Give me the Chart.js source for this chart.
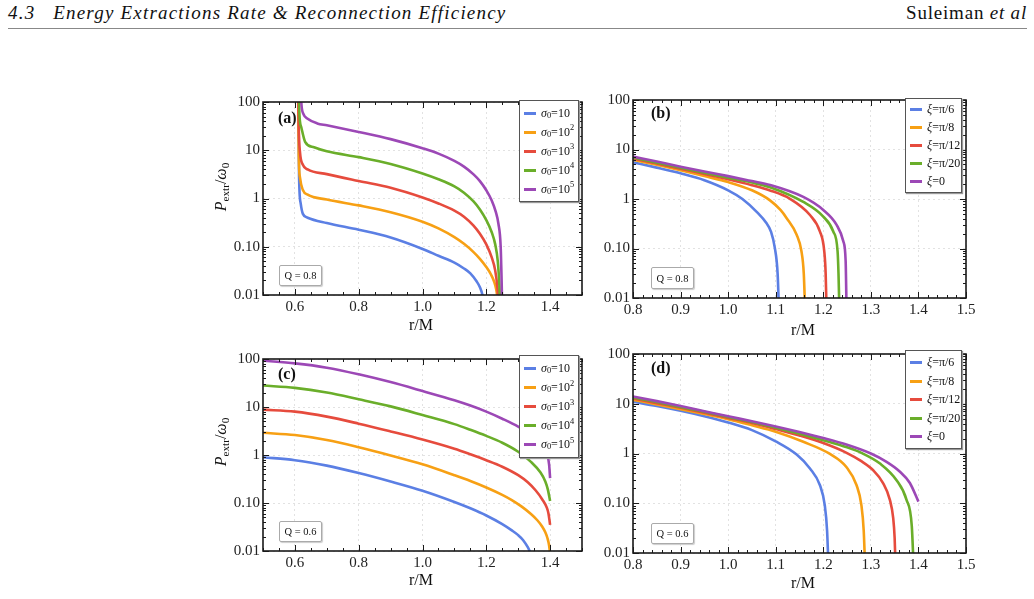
<!DOCTYPE html>
<html>
<head>
<meta charset="utf-8">
<script src="https://cdn.jsdelivr.net/npm/chart.js@4.4.0/dist/chart.umd.min.js"></script>
<style>
  body { margin:0; width:1034px; height:599px; background:#fff; position:relative; overflow:hidden;
         font-family:"Liberation Serif", "DejaVu Serif", serif; color:#111; }
  .hdr { position:absolute; top:3px; font-size:19px; line-height:20px; font-style:italic; white-space:nowrap; }
  .rule { position:absolute; left:8px; width:1019px; top:28px; height:1px; background:#888; }
  canvas.panel { position:absolute; }
  .tag { position:absolute; font-weight:bold; font-size:16px; line-height:16px; }
  .qbox { position:absolute; border:1px solid #aaa; border-radius:2px; background:#fff; font-size:10.5px;
          display:flex; align-items:center; justify-content:center; box-shadow:1px 1px 1px #ccc; }
  .lg { position:absolute; background:#fff; border:1px solid #555; box-shadow:1px 1px 1px #999;
        display:flex; flex-direction:column; justify-content:space-evenly; font-size:12px; }
  .lg .row { display:flex; align-items:center; height:14px; white-space:nowrap; }
  .lg .sw { display:inline-block; width:12px; height:3px; margin:0 5px 0 4px; }
  sub { font-size:0.7em; position:relative; top:0.3em; vertical-align:baseline; line-height:0; }
  sup { font-size:0.7em; position:relative; top:-0.45em; vertical-align:baseline; line-height:0; }
  .xt { position:absolute; font-size:16px; transform:translate(-50%,-50%); white-space:nowrap; }
  .yt { position:absolute; font-size:16px; transform:translate(-50%,-50%) rotate(-90deg); white-space:nowrap; }
</style>
</head>
<body>
<div class="hdr" style="left:8px;letter-spacing:1.2px">4.3&nbsp;&nbsp;&nbsp;Energy Extractions Rate &amp; Reconnection Efficiency</div>
<div class="hdr" style="right:7px;font-style:normal;letter-spacing:0.8px">Suleiman <i>et al</i></div>
<div class="rule"></div>

<canvas id="ca" class="panel"></canvas>
<canvas id="cb" class="panel"></canvas>
<canvas id="cc" class="panel"></canvas>
<canvas id="cd" class="panel"></canvas>

<script>
// ---- colours, ticks, legend labels ----
var fontFamily = "'Liberation Serif', 'DejaVu Serif', serif";
var colors = ['#5B7FE4', '#F7A014', '#E64B3D', '#6AAE2A', '#9C48B6'];
var yTicks = [0.01, 0.1, 1, 10, 100];
var yTickLabels = ['0.01', '0.10', '1', '10', '100'];
var xTicksWide = [0.6, 0.8, 1.0, 1.2, 1.4];
var xTicksNarrow = [0.8, 0.9, 1.0, 1.1, 1.2, 1.3, 1.4, 1.5];
var sigmaExp = ['', '2', '3', '4', '5'];
var xiLabels = ['π/6', 'π/8', 'π/12', 'π/20', '0'];

// ---- (a) Q = 0.8, sigma_0 series ----
var aR1 = [0.611, 0.613, 0.618, 0.625, 0.64, 0.7, 0.8, 0.9, 1.0, 1.05, 1.1, 1.13, 1.15, 1.17, 1.18, 1.188, 1.193];
var aP1 = [200, 3, 0.8, 0.48, 0.4, 0.31, 0.225, 0.155, 0.09, 0.065, 0.047, 0.0355, 0.028, 0.019, 0.0145, 0.01, 0.0063];
var aR2 = [0.610, 0.612, 0.616, 0.625, 0.64, 0.7, 0.8, 0.9, 1.0, 1.05, 1.1, 1.13, 1.16, 1.18, 1.2, 1.215, 1.225, 1.231, 1.236];
var aP2 = [300, 8, 2.7, 1.5, 1.2, 0.95, 0.72, 0.52, 0.33, 0.24, 0.158, 0.115, 0.0776, 0.0562, 0.038, 0.0263, 0.0186, 0.0132, 0.0079];
var aR3 = [0.610, 0.612, 0.616, 0.625, 0.64, 0.7, 0.8, 0.9, 1.0, 1.05, 1.1, 1.13, 1.16, 1.18, 1.2, 1.217, 1.228, 1.235, 1.24];
var aP3 = [300, 30, 9, 5, 4.0, 3.2, 2.3, 1.67, 1.05, 0.79, 0.56, 0.42, 0.275, 0.186, 0.112, 0.06, 0.032, 0.014, 0.005];
var aR4 = [0.612, 0.614, 0.62, 0.632, 0.66, 0.7, 0.8, 0.9, 1.0, 1.05, 1.1, 1.13, 1.16, 1.18, 1.2, 1.217, 1.228, 1.236, 1.241, 1.244];
var aP4 = [300, 60, 30, 15, 11.5, 9.5, 7.2, 5.2, 3.3, 2.5, 1.78, 1.32, 0.87, 0.59, 0.355, 0.2, 0.112, 0.05, 0.016, 0.005];
var aR5 = [0.618, 0.62, 0.627, 0.64, 0.67, 0.7, 0.8, 0.9, 1.0, 1.05, 1.1, 1.13, 1.16, 1.18, 1.2, 1.217, 1.23, 1.238, 1.245, 1.248, 1.25];
var aP5 = [300, 100, 56, 45, 36, 33, 24, 17, 11, 8.5, 6, 4.57, 3.16, 2.29, 1.48, 0.91, 0.52, 0.3, 0.102, 0.02, 0.005];

// ---- (b) Q = 0.8, xi series ----
var bR1 = [0.8, 0.85, 0.9, 0.95, 1.0, 1.03, 1.06, 1.08, 1.09, 1.098, 1.104, 1.107];
var bP1 = [5.5, 4.3, 3.3, 2.4, 1.5, 1.0, 0.55, 0.33, 0.22, 0.104, 0.031, 0.005];
var bR2 = [0.8, 0.85, 0.9, 0.95, 1.0, 1.05, 1.088, 1.11, 1.123, 1.144, 1.154, 1.159, 1.162];
var bP2 = [6.2, 4.9, 3.8, 2.9, 2.2, 1.5, 0.94, 0.6, 0.41, 0.19, 0.089, 0.031, 0.005];
var bR3 = [0.8, 0.85, 0.9, 0.95, 1.0, 1.05, 1.088, 1.13, 1.172, 1.193, 1.202, 1.205, 1.207];
var bP3 = [6.6, 5.2, 4.1, 3.2, 2.5, 1.9, 1.49, 1.01, 0.475, 0.22, 0.089, 0.031, 0.005];
var bR4 = [0.8, 0.85, 0.9, 0.95, 1.0, 1.05, 1.088, 1.158, 1.2, 1.221, 1.23, 1.232, 1.234];
var bP4 = [6.9, 5.4, 4.3, 3.4, 2.7, 2.15, 1.73, 0.87, 0.44, 0.22, 0.089, 0.031, 0.005];
var bR5 = [0.8, 0.85, 0.9, 0.95, 1.0, 1.05, 1.088, 1.158, 1.2, 1.228, 1.242, 1.247, 1.249];
var bP5 = [7.2, 5.7, 4.5, 3.6, 2.9, 2.3, 1.92, 1.1, 0.6, 0.3, 0.141, 0.056, 0.005];

// ---- (c) Q = 0.6, sigma_0 series ----
var cR1 = [0.5, 0.6, 0.7, 0.8, 0.9, 1.0, 1.1, 1.15, 1.2, 1.25, 1.28, 1.3, 1.315, 1.33, 1.34];
var cP1 = [0.9, 0.78, 0.6, 0.42, 0.28, 0.18, 0.105, 0.0776, 0.055, 0.0363, 0.0269, 0.0214, 0.017, 0.012, 0.0087];
var cR2 = [0.5, 0.6, 0.7, 0.8, 0.9, 1.0, 1.1, 1.15, 1.2, 1.25, 1.28, 1.31, 1.34, 1.36, 1.375, 1.385, 1.392, 1.397, 1.4];
var cP2 = [2.9, 2.6, 2.05, 1.45, 0.98, 0.64, 0.38, 0.288, 0.211, 0.148, 0.115, 0.085, 0.059, 0.0437, 0.0324, 0.0245, 0.0182, 0.0129, 0.0089];
var cR3 = [0.5, 0.6, 0.7, 0.8, 0.9, 1.0, 1.1, 1.15, 1.2, 1.25, 1.3, 1.33, 1.355, 1.375, 1.39, 1.395, 1.4];
var cP3 = [8.8, 8.0, 6.3, 4.5, 3.1, 2.1, 1.35, 1.035, 0.78, 0.57, 0.38, 0.27, 0.182, 0.12, 0.079, 0.06, 0.035];
var cR4 = [0.5, 0.6, 0.7, 0.8, 0.9, 1.0, 1.1, 1.15, 1.2, 1.25, 1.3, 1.34, 1.37, 1.385, 1.393, 1.4];
var cP4 = [28, 25, 20, 14.5, 10.3, 6.8, 4.4, 3.35, 2.5, 1.8, 1.17, 0.72, 0.43, 0.28, 0.19, 0.11];
var cR5 = [0.5, 0.6, 0.7, 0.8, 0.9, 1.0, 1.1, 1.15, 1.2, 1.25, 1.3, 1.35, 1.38, 1.39, 1.397, 1.4];
var cP5 = [92, 81, 66, 48, 33, 21.5, 13.8, 10.7, 8.0, 5.7, 3.9, 2.4, 1.45, 1.08, 0.62, 0.33];

// ---- (d) Q = 0.6, xi series ----
var dR1 = [0.8, 0.85, 0.9, 0.95, 1.0, 1.05, 1.1, 1.144, 1.172, 1.193, 1.203, 1.208, 1.211];
var dP1 = [11, 9.0, 7.2, 5.6, 4.2, 2.95, 1.75, 0.95, 0.5, 0.23, 0.093, 0.028, 0.005];
var dR2 = [0.8, 0.85, 0.9, 0.95, 1.0, 1.05, 1.1, 1.158, 1.214, 1.249, 1.27, 1.28, 1.285, 1.288];
var dP2 = [12, 9.7, 7.8, 6.2, 4.9, 3.7, 2.75, 1.72, 0.98, 0.53, 0.23, 0.093, 0.028, 0.005];
var dR3 = [0.8, 0.85, 0.9, 0.95, 1.0, 1.05, 1.1, 1.15, 1.2, 1.25, 1.28, 1.305, 1.325, 1.34, 1.347, 1.35, 1.352];
var dP3 = [12.8, 10.3, 8.3, 6.6, 5.2, 4.1, 3.1, 2.3, 1.62, 1.02, 0.7, 0.46, 0.26, 0.117, 0.05, 0.02, 0.005];
var dR4 = [0.8, 0.85, 0.9, 0.95, 1.0, 1.05, 1.1, 1.15, 1.2, 1.25, 1.28, 1.32, 1.354, 1.375, 1.386, 1.39];
var dP4 = [13.4, 10.8, 8.6, 6.9, 5.4, 4.3, 3.3, 2.5, 1.85, 1.33, 1.03, 0.62, 0.29, 0.117, 0.035, 0.005];
var dR5 = [0.8, 0.85, 0.9, 0.95, 1.0, 1.05, 1.1, 1.15, 1.2, 1.25, 1.3, 1.333, 1.36, 1.382, 1.4];
var dP5 = [14, 11.3, 9.0, 7.1, 5.6, 4.45, 3.5, 2.7, 2.05, 1.5, 1.0, 0.68, 0.44, 0.255, 0.108];

// ticks inside the frame + the frame itself (Mathematica style)
var framePlugin = {
  id: 'frame',
  afterDraw: function(chart, args, opts) {
    var ctx = chart.ctx, a = chart.chartArea, xs = chart.scales.x, ys = chart.scales.y;
    ctx.save();
    ctx.strokeStyle = '#1a1a1a';
    ctx.lineWidth = 1;
    ctx.beginPath();
    var n = Math.round((xs.max - xs.min) / opts.minor);
    for (var i = 0; i <= n; i++) {
      var v = xs.min + i * opts.minor;
      var px = Math.round(xs.getPixelForValue(v)) + 0.5;
      var major = opts.major.some(function(m) { return Math.abs(m - v) < 1e-6; });
      var len = major ? 6 : 3;
      ctx.moveTo(px, a.bottom); ctx.lineTo(px, a.bottom - len);
      ctx.moveTo(px, a.top); ctx.lineTo(px, a.top + len);
    }
    for (var d = 0; d < yTicks.length; d++) {
      for (var k = 1; k <= 9; k++) {
        if (d === yTicks.length - 1 && k > 1) break;
        var val = yTicks[d] * k;
        var py = Math.round(ys.getPixelForValue(val)) + 0.5;
        var l2 = k === 1 ? 6 : 3;
        ctx.moveTo(a.left, py); ctx.lineTo(a.left + l2, py);
        ctx.moveTo(a.right, py); ctx.lineTo(a.right - l2, py);
      }
    }
    ctx.stroke();
    ctx.lineWidth = 1.6;
    ctx.strokeRect(a.left, a.top, a.right - a.left, a.bottom - a.top);
    ctx.restore();
  }
};

function yLabel(v) {
  for (var i = 0; i < yTicks.length; i++) {
    if (Math.abs(v / yTicks[i] - 1) < 1e-6) return yTickLabels[i];
  }
  return '';
}

function makePanel(id, area, xRange, xTicks, xMinor, rs, ps) {
  var padL = 46, padB = 30, padT = 8, padR = 14;
  var cv = document.getElementById(id);
  var W = area.R - area.L + padL + padR, H = area.B - area.T + padT + padB;
  cv.width = W; cv.height = H;
  cv.style.width = W + 'px'; cv.style.height = H + 'px';
  cv.style.left = (area.L - padL) + 'px';
  cv.style.top = (area.T - padT) + 'px';

  var datasets = rs.map(function(r, i) {
    return {
      data: r.map(function(x, j) { return { x: x, y: ps[i][j] }; }),
      borderColor: colors[i],
      borderWidth: 2.6,
      pointRadius: 0,
      fill: false,
      cubicInterpolationMode: 'monotone',
      clip: 0,
      order: rs.length - 1 - i
    };
  });

  new Chart(cv, {
    type: 'line',
    data: { datasets: datasets },
    options: {
      responsive: false,
      animation: false,
      events: [],
      layout: { padding: { top: padT, right: padR, left: 0, bottom: 0 } },
      plugins: { legend: { display: false }, tooltip: { enabled: false },
                 frame: { minor: xMinor, major: xTicks } },
      scales: {
        x: {
          type: 'linear', min: xRange[0], max: xRange[1],
          afterBuildTicks: function(s) { s.ticks = xTicks.map(function(v) { return { value: v }; }); },
          afterFit: function(s) { s.height = padB; },
          ticks: { font: { family: fontFamily, size: 15 }, color: '#222', padding: 3,
                   maxRotation: 0, autoSkip: false,
                   callback: function(v) { return Number(v).toFixed(1); } },
          grid: { color: '#e2e2e2', drawTicks: false, lineWidth: 1 },
          border: { display: false, dash: [2, 3] }
        },
        y: {
          type: 'logarithmic', min: 0.01, max: 100,
          afterBuildTicks: function(s) { s.ticks = yTicks.map(function(v) { return { value: v }; }); },
          afterFit: function(s) { s.width = padL; },
          ticks: { font: { family: fontFamily, size: 15 }, color: '#222', padding: 3,
                   autoSkip: false, callback: function(v) { return yLabel(v); } },
          grid: { color: '#e2e2e2', drawTicks: false, lineWidth: 1 },
          border: { display: false, dash: [2, 3] }
        }
      }
    },
    plugins: [framePlugin]
  });
}

function addDiv(cls, html, style) {
  var d = document.createElement('div');
  d.className = cls;
  d.innerHTML = html;
  for (var k in style) d.style[k] = style[k];
  document.body.appendChild(d);
  return d;
}

function addLegend(box, labels) {
  var html = '';
  for (var i = 0; i < labels.length; i++) {
    html += '<div class="row"><span class="sw" style="background:' + colors[i] + '"></span>' + labels[i] + '</div>';
  }
  addDiv('lg', html, { left: box.x + 'px', top: box.y + 'px', width: box.w + 'px', height: box.h + 'px' });
}

var sigmaLegend = sigmaExp.map(function(e) {
  return '<i>σ</i><sub>0</sub>=10' + (e ? '<sup>' + e + '</sup>' : '');
});
var xiLegend = xiLabels.map(function(s) { return '<i>ξ</i>=' + s; });

makePanel('ca', { L: 263, R: 582, T: 98, B: 295 }, [0.5, 1.5], xTicksWide, 0.05,
          [aR1, aR2, aR3, aR4, aR5], [aP1, aP2, aP3, aP4, aP5]);
makePanel('cb', { L: 633, R: 966, T: 96, B: 298 }, [0.8, 1.5], xTicksNarrow, 0.02,
          [bR1, bR2, bR3, bR4, bR5], [bP1, bP2, bP3, bP4, bP5]);
makePanel('cc', { L: 263, R: 582, T: 355, B: 551 }, [0.5, 1.5], xTicksWide, 0.05,
          [cR1, cR2, cR3, cR4, cR5], [cP1, cP2, cP3, cP4, cP5]);
makePanel('cd', { L: 633, R: 966, T: 350, B: 553 }, [0.8, 1.5], xTicksNarrow, 0.02,
          [dR1, dR2, dR3, dR4, dR5], [dP1, dP2, dP3, dP4, dP5]);

// overlays: panel tags, Q boxes, legends, axis titles
addDiv('tag', '(a)', { left: '278px', top: '110px' });
addDiv('tag', '(b)', { left: '651px', top: '105px' });
addDiv('tag', '(c)', { left: '278px', top: '366px' });
addDiv('tag', '(d)', { left: '651px', top: '360px' });

addDiv('qbox', 'Q = 0.8', { left: '279px', top: '265px', width: '41px', height: '19px' });
addDiv('qbox', 'Q = 0.8', { left: '651px', top: '267px', width: '41px', height: '20px' });
addDiv('qbox', 'Q = 0.6', { left: '279px', top: '521px', width: '41px', height: '19px' });
addDiv('qbox', 'Q = 0.6', { left: '651px', top: '523px', width: '41px', height: '19px' });

addLegend({ x: 519, y: 100, w: 58, h: 100 }, sigmaLegend);
addLegend({ x: 905, y: 98, w: 55, h: 93 }, xiLegend);
addLegend({ x: 519, y: 355, w: 58, h: 101 }, sigmaLegend);
addLegend({ x: 905, y: 350, w: 55, h: 97 }, xiLegend);

var yTitle = '<i>P</i><sub>extr</sub>/<i>ω</i><sub>0</sub>';
addDiv('yt', yTitle, { left: '221px', top: '187px' });
addDiv('yt', yTitle, { left: '221px', top: '442px' });
addDiv('xt', 'r/M', { left: '421px', top: '325px' });
addDiv('xt', 'r/M', { left: '803px', top: '330px' });
addDiv('xt', 'r/M', { left: '421px', top: '580px' });
addDiv('xt', 'r/M', { left: '803px', top: '583px' });
</script>
</body>
</html>
